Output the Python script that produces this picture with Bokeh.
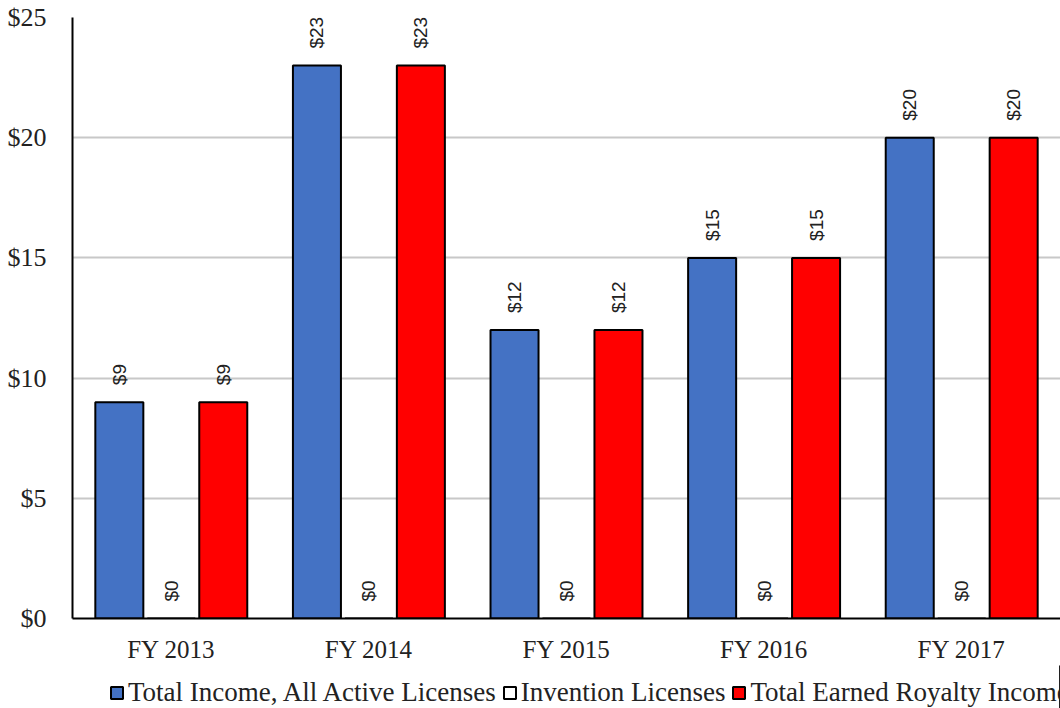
import math
from bokeh.plotting import figure
from bokeh.layouts import column
from bokeh.models import ColumnDataSource, FactorRange, Range1d, Legend, LegendItem, NumeralTickFormatter, FixedTicker
from bokeh.transform import dodge
from bokeh.core.properties import value
from bokeh.embed import file_html
from bokeh.resources import INLINE

years = ["FY 2013", "FY 2014", "FY 2015", "FY 2016", "FY 2017"]
total_income = [9, 23, 12, 15, 20]
invention = [0, 0, 0, 0, 0]
eri = [9, 23, 12, 15, 20]
series_names = ["Total Income, All Active Licenses", "Invention Licenses", "Total Earned Royalty Income (ERI)"]
y_ticks = [0, 5, 10, 15, 20, 25]

src = ColumnDataSource(dict(
    years=years,
    total=total_income,
    inv=invention,
    eri=eri,
    total_lbl=["$%d" % v for v in total_income],
    inv_lbl=["$%d" % v for v in invention],
    eri_lbl=["$%d" % v for v in eri],
))

p = figure(x_range=FactorRange(*years, range_padding=0), y_range=Range1d(0, 25),
           frame_width=988, frame_height=601, output_backend="svg", toolbar_location=None,
           min_border_left=72, min_border_right=0, min_border_top=17, min_border_bottom=0)
p.outline_line_color = None
p.background_fill_color = "white"
p.border_fill_color = "white"

off = 0.263
bw = 0.243
serif = "Liberation Serif"
colors = ["#4472C4", "white", "#FF0000"]

r1 = p.vbar(x=dodge("years", -off, range=p.x_range), top="total", width=bw, source=src,
            fill_color=colors[0], line_color="black", line_width=2)
r2 = p.vbar(x=dodge("years", 0, range=p.x_range), top="inv", width=bw, source=src,
            fill_color=colors[1], line_color="black", line_width=2)
r3 = p.vbar(x=dodge("years", off, range=p.x_range), top="eri", width=bw, source=src,
            fill_color=colors[2], line_color="black", line_width=2)

for col, lbl, o in [("total", "total_lbl", -off), ("inv", "inv_lbl", 0), ("eri", "eri_lbl", off)]:
    p.text(x=dodge("years", o, range=p.x_range), y=col, text=lbl, source=src,
           angle=math.pi / 2, text_align="left", text_baseline="middle",
           y_offset=-17, text_font=value("Liberation Sans"), text_font_size="19px",
           text_color="#222222")

p.yaxis.ticker = FixedTicker(ticks=y_ticks)
p.yaxis.formatter = NumeralTickFormatter(format="$0")
p.yaxis.major_label_text_font = serif
p.yaxis.major_label_text_font_size = "26px"
p.yaxis.major_label_text_color = "#222222"
p.yaxis.major_label_standoff = 20
p.yaxis.major_tick_line_color = None
p.yaxis.minor_tick_line_color = None
p.yaxis.axis_line_color = "black"
p.yaxis.axis_line_width = 2

p.xaxis.major_label_text_font = serif
p.xaxis.major_label_text_font_size = "25px"
p.xaxis.major_label_text_color = "#222222"
p.xaxis.major_label_standoff = 11
p.xaxis.major_tick_line_color = None
p.xaxis.axis_line_color = "black"
p.xaxis.axis_line_width = 2

p.xgrid.grid_line_color = None
p.ygrid.grid_line_color = "#c8c8c8"
p.ygrid.grid_line_width = 2

# legend strip below the chart
lg = figure(width=1060, height=43, x_range=Range1d(0, 1), y_range=Range1d(0, 1),
            x_axis_location=None, y_axis_location=None,
            output_backend="svg", toolbar_location=None,
            min_border_left=0, min_border_right=0, min_border_top=0, min_border_bottom=0)
lg.grid.visible = False
lg.outline_line_color = None
lg.background_fill_color = "white"
lg.border_fill_color = "white"
dummies = [lg.vbar(x=[10], top=[10], width=0.1, fill_color=c, line_color="black", line_width=2)
           for c in colors]

legend = Legend(items=[LegendItem(label=n, renderers=[r]) for n, r in zip(series_names, dummies)],
                orientation="horizontal", location=(37, 0),
                label_text_font=serif, label_text_font_size="27px", label_text_color="#222222",
                glyph_width=15, glyph_height=15, label_standoff=4, spacing=6,
                padding=0, margin=0, border_line_color=None, background_fill_alpha=0)
lg.add_layout(legend, "center")

layout = column(p, lg, spacing=0)
open("out.html", "w").write(file_html(layout, INLINE))
